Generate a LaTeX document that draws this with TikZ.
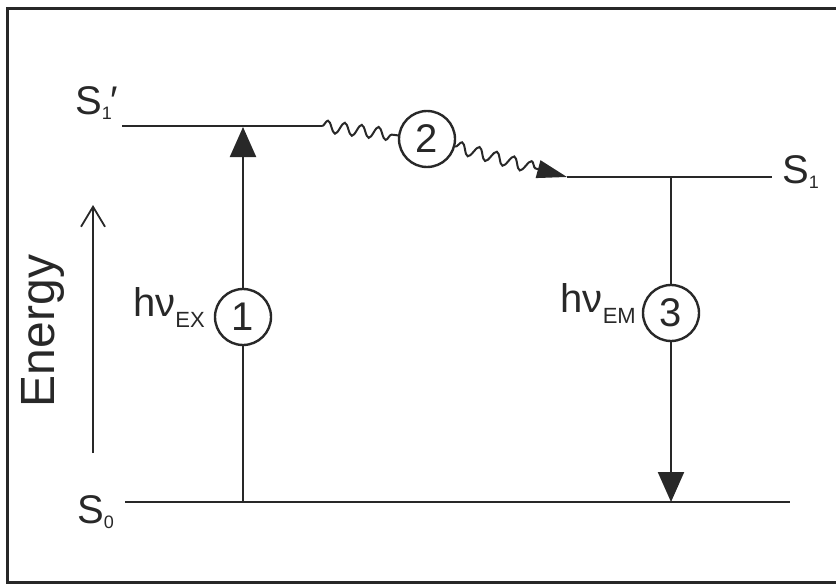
\documentclass[tikz,border=0pt]{standalone}
\usepackage{fontspec}
\setmainfont{Liberation Sans}
\usetikzlibrary{arrows.meta,decorations.pathmorphing}

\definecolor{ink}{RGB}{40,40,40}
\newcommand{\lowsub}[1]{\raisebox{-5pt}{\fontsize{18}{18}\selectfont #1}}
\newcommand{\photon}[1]{hν\raisebox{-11pt}{\fontsize{22}{22}\selectfont #1}}

\begin{document}
\begin{tikzpicture}[x=1pt, y=-1pt,
    lvline/.style={draw=ink, line width=2.9pt},
    lbl/.style={font=\fontsize{40}{42}\selectfont, text=ink, inner sep=0pt},
    ring/.style={draw=ink, circle, line width=2.4pt, minimum size=56pt, inner sep=0pt, font=\fontsize{40}{42}\selectfont, text=ink},
    trans/.style={draw=ink, line width=2.2pt},
    head/.style={-{Triangle[length=30pt, width=26pt]}},
    wave/.style={draw=ink, line width=2pt, decorate, decoration={snake, segment length=18pt, amplitude=6pt}}
]
\useasboundingbox (0,0) rectangle (836,586);

% Frame
\draw[ink, line width=3pt] (836,9) -- (7,9) -- (7,582) -- (836,582);

% Levels
\coordinate (s1pL) at (122,126);
\coordinate (s1pR) at (322,126);
\coordinate (s1L) at (567,177);
\coordinate (s1R) at (772,177);
\coordinate (s0L) at (125,502);
\coordinate (s0R) at (790,502);
\draw[lvline] (s1pL) -- (s1pR);
\draw[lvline] (s1L) -- (s1R);
\draw[lvline] (s0L) -- (s0R);

\node[lbl, anchor=base west] (s1pname) at (75,114) {S\lowsub{1}\kern-1pt′};
\node[lbl, anchor=base west] (s1name) at (782,183) {S\lowsub{1}};
\node[lbl, anchor=base west] (s0name) at (77,523) {S\lowsub{0}};

% Absorption
\coordinate (ex0) at (243,502);
\coordinate (ex1) at (243,127);
\node[ring] (c1) at (243,317) {1};
\draw[trans] (ex0) -- (c1);
\draw[trans, head] (c1) -- (ex1);
\node[lbl, anchor=base east] (hex) at (205,316) {\photon{EX}};

% Vibrational relaxation
\node[ring] (c2) at (427,139) {2};
\draw[wave, decoration={segment length=17pt}] (s1pR) -- (c2);
\draw[wave, decoration={post length=32pt}, -{Triangle[length=30pt, width=18pt]}] (c2) -- (s1L);

% Emission
\coordinate (em0) at (671,177);
\coordinate (em1) at (671,502);
\node[ring] (c3) at (671,313) {3};
\draw[trans] (em0) -- (c3);
\draw[trans, head] (c3) -- (em1);
\node[lbl, anchor=base east] (hem) at (636,312) {\photon{EM}};

% Energy axis
\coordinate (eBot) at (93,453);
\coordinate (eTop) at (93,205);
\draw[trans, line width=1.8pt, -{Straight Barb[length=20pt, width=24pt]}] (eBot) -- (eTop);
\node[lbl, rotate=90, font=\fontsize{48}{50}\selectfont] (energy) at (43,331) {Energy};
\end{tikzpicture}
\end{document}
